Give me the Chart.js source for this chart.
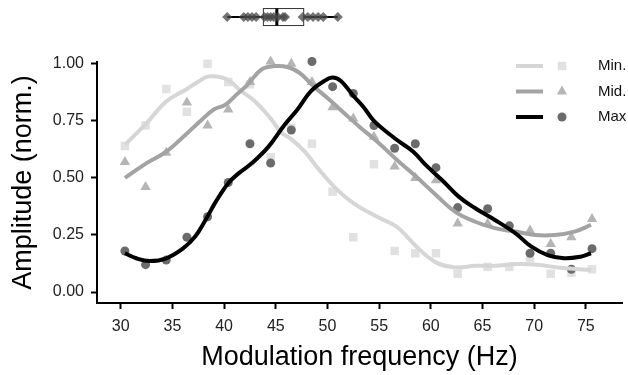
<!DOCTYPE html>
<html>
<head>
<meta charset="utf-8">
<script src="https://cdn.jsdelivr.net/npm/chart.js@4/dist/chart.umd.min.js"></script>
<style>
  html, body { margin: 0; padding: 0; background: #fff; }
</style>
</head>
<body>
<canvas id="myChart" width="628" height="375"></canvas>
<script>
// measured points (Hz)
const freqs = [30.4, 32.4, 34.4, 36.4, 38.4, 40.4, 42.5, 44.5, 46.5, 48.5, 50.5, 52.5, 54.5, 56.5, 58.5, 60.5, 62.6, 65.5, 67.6, 69.6, 71.6, 73.6, 75.6];
const minAmp = [0.64, 0.73, 0.89, 0.79, 1.00, 0.92, 0.91, 0.59, 0.72, 0.65, 0.44, 0.24, 0.56, 0.18, 0.17, 0.17, 0.08, 0.11, 0.11, 0.15, 0.08, 0.085, 0.10];
const midAmp = [0.57, 0.46, 0.61, 0.83, 0.73, 0.80, 0.92, 1.01, 1.00, 0.92, 0.81, 0.76, 0.68, 0.55, 0.50, 0.49, 0.30, 0.30, 0.28, 0.27, 0.21, 0.24, 0.32];
const maxAmp = [0.18, 0.12, 0.14, 0.24, 0.33, 0.48, 0.65, 0.565, 0.71, 1.01, 0.90, 0.87, 0.73, 0.63, 0.65, 0.545, 0.37, 0.365, 0.29, 0.17, 0.17, 0.10, 0.19];

// smoothed fits
const minFitX = [30.4, 32.5, 34.4, 36.4, 37.6, 38.5, 39.8, 40.7, 41.4, 43.0, 44.6, 45.5, 46.5, 47.8, 49.3, 50.9, 52.5, 54.8, 56.7, 58.6, 60.5, 62.4, 64.3, 66.2, 68.3, 70.3, 72.3, 74.3, 75.5];
const minFitY = [0.645, 0.74, 0.835, 0.89, 0.925, 0.945, 0.94, 0.92, 0.89, 0.835, 0.755, 0.70, 0.67, 0.615, 0.53, 0.45, 0.39, 0.33, 0.286, 0.20, 0.13, 0.108, 0.115, 0.115, 0.123, 0.12, 0.108, 0.10, 0.097];
const midFitX = [30.4, 32.5, 34.4, 36.4, 37.6, 39.0, 40.1, 41.2, 42.3, 43.6, 44.9, 46.2, 47.3, 48.7, 50.0, 51.6, 53.2, 54.8, 56.7, 58.6, 60.5, 62.4, 64.3, 66.2, 68.2, 70.1, 72.0, 73.9, 75.5];
const midFitY = [0.50, 0.565, 0.615, 0.695, 0.745, 0.80, 0.82, 0.865, 0.91, 0.975, 0.99, 0.985, 0.96, 0.90, 0.85, 0.785, 0.72, 0.66, 0.58, 0.505, 0.425, 0.35, 0.308, 0.28, 0.265, 0.25, 0.25, 0.265, 0.294];
const maxFitX = [30.4, 31.5, 32.8, 34.4, 36.0, 37.2, 38.2, 39.2, 40.4, 41.4, 42.7, 44.3, 45.8, 47.1, 48.4, 49.7, 50.5, 51.3, 52.5, 53.5, 54.5, 56.5, 58.3, 59.5, 61.1, 62.7, 64.3, 66.2, 68.2, 69.7, 71.3, 72.9, 74.5, 75.5];
const maxFitY = [0.17, 0.148, 0.136, 0.148, 0.19, 0.243, 0.316, 0.396, 0.477, 0.52, 0.565, 0.637, 0.73, 0.80, 0.88, 0.925, 0.94, 0.925, 0.86, 0.81, 0.75, 0.674, 0.615, 0.557, 0.49, 0.418, 0.367, 0.316, 0.257, 0.20, 0.162, 0.148, 0.155, 0.17];

// distribution shown above the panel
const peakFreqs = [40.3, 41.9, 42.3, 42.7, 43.1, 43.9, 44.2, 44.5, 44.8, 45.2, 45.7, 45.9, 47.6, 48.1, 48.6, 49.1, 49.6, 51.0];
const boxStats = [40.3, 43.8, 45.1, 47.7, 51.0]; // low whisker, q1, median, q3, high whisker

const xTicks = [30, 35, 40, 45, 50, 55, 60, 65, 70, 75];
const yTicks = [0, 0.25, 0.5, 0.75, 1];
const seriesNames = ["Min.", "Mid.", "Max"];

const STRIP_Y = 1.205;
const FONT = "'Liberation Sans', Arial, sans-serif";

const toXY = (xs, ys) => xs.map((x, i) => ({ x: x, y: ys[i] }));

const styles = [
  { line: "#d6d6d6", point: "#e1e1e1", shape: "rect", r: 6 },
  { line: "#a3a3a3", point: "#b5b5b5", shape: "triangle", r: 6 },
  { line: "#000000", point: "#6b6b6b", shape: "circle", r: 4.5 }
];

// box + jittered diamonds above the panel, placed with the chart's x scale
const boxPlugin = {
  id: "boxStrip",
  afterDatasetsDraw(chart) {
    const ctx = chart.ctx;
    const x = chart.scales.x, y = chart.scales.y;
    const cy = y.getPixelForValue(STRIP_Y);
    const half = 8.5;
    ctx.save();
    ctx.strokeStyle = "#000";
    ctx.lineWidth = 2;
    ctx.beginPath();
    ctx.moveTo(x.getPixelForValue(boxStats[0]), cy);
    ctx.lineTo(x.getPixelForValue(boxStats[1]), cy);
    ctx.moveTo(x.getPixelForValue(boxStats[3]), cy);
    ctx.lineTo(x.getPixelForValue(boxStats[4]), cy);
    ctx.stroke();
    const q1 = x.getPixelForValue(boxStats[1]), q3 = x.getPixelForValue(boxStats[3]);
    ctx.fillStyle = "#fff";
    ctx.fillRect(q1, cy - half, q3 - q1, half * 2);
    ctx.lineWidth = 1;
    ctx.strokeStyle = "#333";
    ctx.strokeRect(q1, cy - half, q3 - q1, half * 2);
    ctx.lineWidth = 3;
    ctx.strokeStyle = "#000";
    const med = x.getPixelForValue(boxStats[2]);
    ctx.beginPath();
    ctx.moveTo(med, cy - half);
    ctx.lineTo(med, cy + half);
    ctx.stroke();
    ctx.fillStyle = "rgba(70,70,70,0.75)";
    peakFreqs.forEach(v => {
      Chart.helpers.drawPoint(ctx, { pointStyle: "rectRot", radius: 5, rotation: 0, borderWidth: 0 }, x.getPixelForValue(v), cy);
    });
    ctx.restore();
  }
};

const legendPlugin = {
  id: "sideLegend",
  afterDraw(chart) {
    const ctx = chart.ctx;
    ctx.save();
    seriesNames.forEach((name, i) => {
      const yy = 66 + i * 25.5;
      const s = styles[i];
      ctx.strokeStyle = s.line;
      ctx.lineWidth = 4;
      ctx.beginPath();
      ctx.moveTo(516, yy);
      ctx.lineTo(543, yy);
      ctx.stroke();
      ctx.fillStyle = s.point;
      Chart.helpers.drawPoint(ctx, { pointStyle: s.shape, radius: s.r, rotation: 0, borderWidth: 0 }, 562, yy);
      ctx.fillStyle = "#111";
      ctx.font = "15px " + FONT;
      ctx.textBaseline = "middle";
      ctx.fillText(name, 598, yy);
    });
    ctx.restore();
  }
};

const ctx = document.getElementById("myChart").getContext("2d");

const pointSets = [minAmp, midAmp, maxAmp].map((vals, i) => ({
  type: "scatter",
  data: toXY(freqs, vals),
  pointStyle: styles[i].shape,
  pointRadius: styles[i].r,
  backgroundColor: styles[i].point,
  borderWidth: 0,
  showLine: false,
  clip: false,
  order: 10 - i
}));

const fitSets = [[minFitX, minFitY], [midFitX, midFitY], [maxFitX, maxFitY]].map((f, i) => ({
  type: "line",
  data: toXY(f[0], f[1]),
  borderColor: styles[i].line,
  borderWidth: 4,
  pointRadius: 0,
  tension: 0.4,
  fill: false,
  clip: false,
  order: 5 - i
}));

const myChart = new Chart(ctx, {
  type: "scatter",
  data: { datasets: [...pointSets, ...fitSets] },
  options: {
    responsive: false,
    animation: false,
    layout: { padding: { top: 62, right: 0, left: 0, bottom: 0 } },
    plugins: { legend: { display: false }, tooltip: { enabled: false } },
    scales: {
      x: {
        type: "linear",
        min: 27.7,
        max: 78.5,
        afterBuildTicks: axis => { axis.ticks = xTicks.map(v => ({ value: v })); },
        afterFit: axis => { axis.height = 72; },
        grid: { drawOnChartArea: false, tickLength: 6, tickColor: "#000", tickWidth: 2 },
        border: { color: "#000", width: 2 },
        ticks: { color: "#222", font: { size: 16, family: FONT }, padding: 8 },
        title: { display: true, text: "Modulation frequency (Hz)", color: "#000", font: { size: 27, family: FONT }, padding: { top: 0, bottom: 1 } }
      },
      y: {
        type: "linear",
        min: -0.048,
        max: 1.008,
        afterBuildTicks: axis => { axis.ticks = yTicks.map(v => ({ value: v })); },
        afterFit: axis => { axis.width = 97; },
        grid: { drawOnChartArea: false, tickLength: 6, tickColor: "#000", tickWidth: 2 },
        border: { color: "#000", width: 2 },
        ticks: { color: "#222", font: { size: 16, family: FONT }, padding: 7, callback: v => v.toFixed(2) },
        title: { display: true, text: "Amplitude (norm.)", color: "#000", font: { size: 27, family: FONT }, padding: { top: 7, bottom: 0 } }
      }
    }
  },
  plugins: [boxPlugin, legendPlugin]
});
</script>
</body>
</html>
